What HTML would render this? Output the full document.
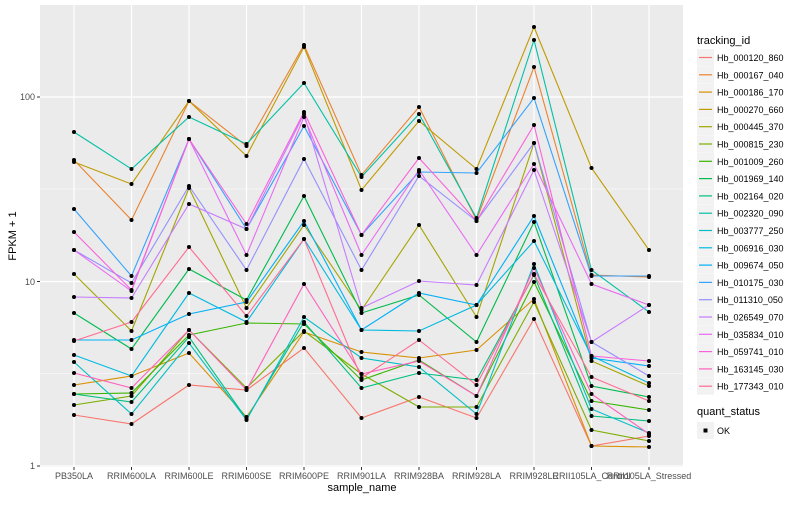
<!DOCTYPE html>
<html><head><meta charset="utf-8"><style>
body{margin:0;background:#fff;width:800px;height:500px;overflow:hidden;font-family:"Liberation Sans",sans-serif}
</style></head><body>
<svg id="s" width="800" height="500" xmlns="http://www.w3.org/2000/svg" font-family="Liberation Sans, sans-serif">
<rect x="40" y="5" width="643" height="462" fill="#ebebeb"/>
<g stroke="#fff" stroke-width="0.6">
<line x1="40" x2="683" y1="373.5" y2="373.5"/><line x1="40" x2="683" y1="189" y2="189"/><line x1="40" x2="683" y1="4" y2="4"/>
</g>
<g id="grid" stroke="#fff" stroke-width="1.2">
<line x1="40" x2="683" y1="466" y2="466"/><line x1="40" x2="683" y1="281.5" y2="281.5"/><line x1="40" x2="683" y1="97" y2="97"/>
</g>
<g id="lines" fill="none" stroke-width="1.1"></g>
<g id="pts" fill="#000"></g>
<g font-size="9" fill="#4d4d4d" text-anchor="end">
<text x="35" y="469">1</text><text x="35" y="285">10</text><text x="35" y="100">100</text>
</g>
<g stroke="#333" stroke-width="1"><line x1="37" x2="40" y1="466" y2="466"/><line x1="37" x2="40" y1="281.5" y2="281.5"/><line x1="37" x2="40" y1="97" y2="97"/></g>
<g id="xt" font-size="9" fill="#4d4d4d" text-anchor="middle"></g>
<text x="362" y="491" font-size="11" text-anchor="middle" fill="#000">sample_name</text>
<text transform="translate(16,236) rotate(-90)" font-size="11" text-anchor="middle" fill="#000">FPKM + 1</text>
<text x="697" y="44" font-size="11" fill="#000">tracking_id</text>
<g id="leg"></g>
<text x="697" y="415" font-size="11" fill="#000">quant_status</text>
<rect x="697" y="422" width="17" height="17" fill="#f2f2f2"/>
<rect x="703.5" y="428.5" width="4" height="4" fill="#000"/>
<text x="717" y="434" font-size="9" fill="#000">OK</text>
</svg>
<script>
var X=[];for(var i=0;i<11;i++)X.push(74+57.5*i);
var names=["PB350LA","RRIM600LA","RRIM600LE","RRIM600SE","RRIM600PE","RRIM901LA","RRIM928BA","RRIM928LA","RRIM928LE","RRII105LA_Control","RRII105LA_Stressed"];
var ids=["Hb_000120_860","Hb_000167_040","Hb_000186_170","Hb_000270_660","Hb_000445_370","Hb_000815_230","Hb_001009_260","Hb_001969_140","Hb_002164_020","Hb_002320_090","Hb_003777_250","Hb_006916_030","Hb_009674_050","Hb_010175_030","Hb_011310_050","Hb_026549_070","Hb_035834_010","Hb_059741_010","Hb_163145_030","Hb_177343_010"];
var cols=["#F8766D","#EA8331","#D89000","#C09B00","#A3A500","#7CAE00","#39B600","#00BB4E","#00BF7D","#00C1A3","#00BFC4","#00BAE0","#00B0F6","#35A2FF","#9590FF","#C77CFF","#E76BF3","#FA62DB","#FF62BC","#FF6C91"];
var D=[
[415,424,385,390,348,418,397,418,319,446,436],
[160,220,101,146,45,175,107,220,67,275,277],
[385,376,353,417,332,352,358,350,299,446,447],
[162,184,101,156,47,190,121,169,27,168,250],
[274,331,188,308,225,310,225,317,143,361,386],
[405,396,330,388,331,374,407,407,302,430,441],
[394,393,335,323,324,380,360,396,282,401,410],
[313,349,269,300,196,313,295,342,222,386,397],
[394,402,337,419,322,388,373,380,275,416,421],
[132,169,117,144,83,177,114,218,40,270,312],
[362,414,343,420,317,358,367,414,264,409,433],
[355,376,293,322,239,330,331,305,241,356,383],
[340,340,314,302,221,330,293,305,216,358,366],
[209,276,139,229,126,235,172,173,98,276,276],
[250,283,186,270,159,270,176,221,143,342,376],
[297,298,204,229,114,308,281,285,170,342,305],
[250,291,139,255,117,255,170,255,164,284,305],
[232,290,139,224,112,235,158,221,125,356,361],
[373,388,330,390,284,374,361,396,268,394,434],
[341,322,247,316,239,378,340,385,274,377,401]];
var ns="http://www.w3.org/2000/svg",L=document.getElementById("lines"),P=document.getElementById("pts"),G=document.getElementById("leg"),XT=document.getElementById("xt"),GR=document.getElementById("grid");
function el(t,a,p){var e=document.createElementNS(ns,t);for(var k in a)e.setAttribute(k,a[k]);p.appendChild(e);return e;}
X.forEach(function(x,i){el("line",{x1:x,x2:x,y1:5,y2:467},GR);el("line",{x1:x,x2:x,y1:467,y2:470,stroke:"#333"},XT);var t=el("text",{x:x,y:479},XT);t.textContent=names[i];});
D.forEach(function(d,s){el("polyline",{points:d.map(function(y,i){return X[i]+","+y}).join(" "),stroke:cols[s]},L);
d.forEach(function(y,i){el("circle",{cx:X[i],cy:y,r:2},P);});
var y0=49+s*17.3;el("rect",{x:697,y:y0,width:17,height:17,fill:"#f2f2f2"},G);el("line",{x1:699,x2:712,y1:y0+8.5,y2:y0+8.5,stroke:cols[s],"stroke-width":1.2},G);
var t=el("text",{x:717,y:y0+12,"font-size":9,fill:"#000"},G);t.textContent=ids[s];});
</script>
</body></html>
